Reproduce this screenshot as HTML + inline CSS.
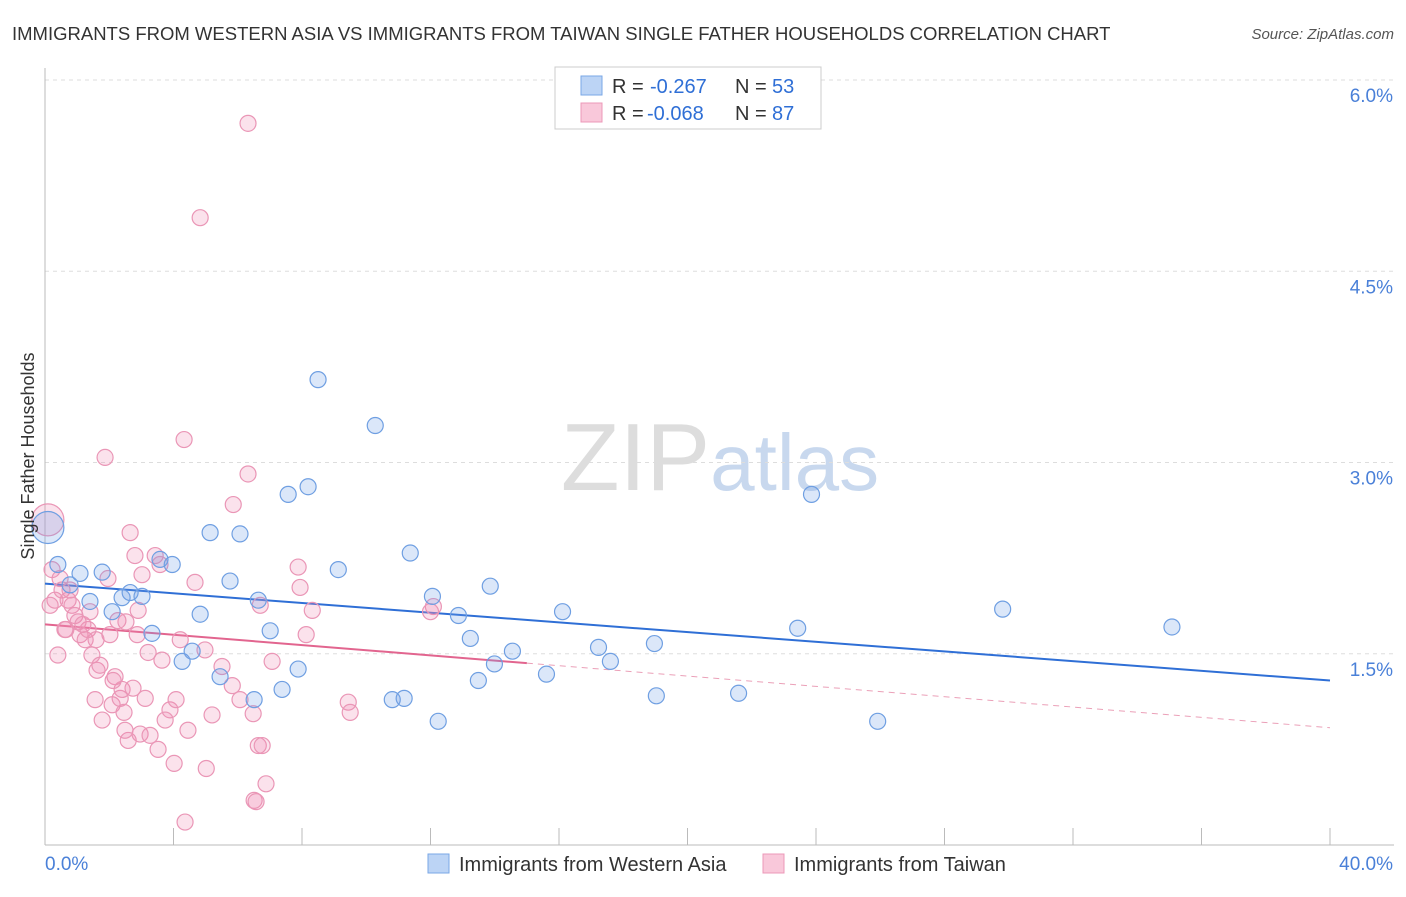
<!DOCTYPE html>
<html><head><meta charset="utf-8"><style>
body{margin:0;background:#fff;font-family:"Liberation Sans",sans-serif}
svg text{font-family:"Liberation Sans",sans-serif}
</style></head><body>
<svg id="chart" width="1406" height="892" viewBox="0 0 1406 892" xmlns="http://www.w3.org/2000/svg">
<text x="12" y="40" font-size="18.5" fill="#333">IMMIGRANTS FROM WESTERN ASIA VS IMMIGRANTS FROM TAIWAN SINGLE FATHER HOUSEHOLDS CORRELATION CHART</text>
<text x="1394" y="39" font-size="15" fill="#555" text-anchor="end" font-style="italic">Source: ZipAtlas.com</text>
<text x="720" y="490" font-size="96" fill="#ddd" text-anchor="middle" font-family="Liberation Serif"><tspan>ZIP</tspan><tspan fill="#c8d8ee" font-family="Liberation Sans" font-size="80">atlas</tspan></text>
<g id="grid"></g><g id="axes"></g><g id="lines"></g><g id="pts"></g>
<text transform="translate(34,456) rotate(-90)" font-size="18" fill="#333" text-anchor="middle">Single Father Households</text>
<g>
<rect x="555" y="67" width="266" height="62" fill="#fff" stroke="#ccc"/>
<rect x="581" y="76" width="21" height="19" fill="#bcd4f5" stroke="#7aa7e6"/>
<text x="612" y="93" font-size="20" fill="#333">R =</text>
<text x="650" y="93" font-size="20" fill="#2f6fd6">-0.267</text>
<text x="735" y="93" font-size="20" fill="#333">N =</text>
<text x="772" y="93" font-size="20" fill="#2f6fd6">53</text>
<rect x="581" y="103" width="21" height="19" fill="#f9c8da" stroke="#ec98b8"/>
<text x="612" y="120" font-size="20" fill="#333">R =</text>
<text x="647" y="120" font-size="20" fill="#2f6fd6">-0.068</text>
<text x="735" y="120" font-size="20" fill="#333">N =</text>
<text x="772" y="120" font-size="20" fill="#2f6fd6">87</text>
</g>
<g>
<rect x="428" y="854" width="21" height="19" fill="#bcd4f5" stroke="#7aa7e6"/>
<text x="459" y="871" font-size="20" fill="#333">Immigrants from Western Asia</text>
<rect x="763" y="854" width="21" height="19" fill="#f9c8da" stroke="#ec98b8"/>
<text x="794" y="871" font-size="20" fill="#333">Immigrants from Taiwan</text>
</g>
</svg>
<script>
const blueX=[0.09,0.40,0.78,1.09,1.78,1.40,2.09,2.40,2.65,3.02,3.33,3.58,3.96,4.27,4.58,4.83,5.14,5.45,5.76,6.07,6.51,6.64,7.01,7.38,7.57,7.88,8.19,8.50,9.13,10.28,10.81,11.18,11.37,12.06,12.24,12.87,13.24,13.49,13.86,13.99,14.55,15.61,16.11,17.23,17.60,18.97,19.03,21.59,23.43,23.86,25.92,29.81,35.08];
const blueY=[2.49,2.20,2.04,2.13,2.14,1.91,1.83,1.94,1.98,1.95,1.66,2.24,2.20,1.44,1.52,1.81,2.45,1.32,2.07,2.44,1.14,1.92,1.68,1.22,2.75,1.38,2.81,3.65,2.16,3.29,1.14,1.15,2.29,1.95,0.97,1.80,1.62,1.29,2.03,1.42,1.52,1.34,1.83,1.55,1.44,1.58,1.17,1.19,1.70,2.75,0.97,1.85,1.71];
const pinkX=[0.09,0.22,0.31,0.47,0.53,0.62,0.72,0.84,0.93,1.03,1.09,1.25,1.34,1.40,1.46,1.56,1.62,1.71,1.78,1.87,1.96,2.02,2.09,2.18,2.27,2.34,2.40,2.46,2.52,2.59,2.65,2.74,2.80,2.87,2.96,3.02,3.12,3.21,3.27,3.43,3.52,3.58,3.64,3.89,4.02,4.21,4.33,4.36,4.45,4.67,4.83,5.02,5.20,5.51,5.83,6.32,6.32,6.48,6.51,6.57,6.64,6.76,6.70,6.88,7.07,7.88,7.94,8.13,8.32,9.44,9.50,12.09,12.00,0.16,0.40,0.65,0.78,1.18,1.59,2.12,2.49,2.90,3.74,4.08,4.98,6.07,5.86];
const pinkY=[2.55,2.16,1.92,2.09,2.00,1.69,1.92,1.88,1.80,1.75,1.65,1.61,1.69,1.83,1.49,1.14,1.37,1.41,0.98,3.04,2.09,1.65,1.10,1.32,1.76,1.15,1.22,1.04,1.75,0.82,2.45,1.23,2.27,1.65,0.87,2.12,1.15,1.51,0.86,2.27,0.75,2.20,1.45,1.06,0.64,1.61,3.18,0.18,0.90,2.06,4.92,0.60,1.02,1.40,1.25,5.66,2.91,1.03,0.35,0.34,0.78,0.78,1.88,0.48,1.44,2.18,2.02,1.65,1.84,1.12,1.04,1.87,1.83,1.88,1.49,1.69,2.00,1.73,1.61,1.29,0.90,1.84,0.98,1.14,1.53,1.14,2.67];
const blueBig=[0];const pinkBig=[0];
const yTicks=[1.5,3.0,4.5,6.0];
const yTickLabels=["1.5%","3.0%","4.5%","6.0%"];
const xTicks=[0,4,8,12,16,20,24,28,32,36,40];
const blueTrend=[2.05,1.29];const pinkTrend=[1.73,0.92];const pinkSolidEnd=15.0;
const X=v=>45+v*32.125, Y=v=>845-v*127.5;
const NS="http://www.w3.org/2000/svg";
function mk(t,a,p){const e=document.createElementNS(NS,t);for(const k in a)e.setAttribute(k,a[k]);document.getElementById(p).appendChild(e);return e;}
yTicks.forEach((t,i)=>{
 const l=mk('line',{x1:45,x2:1394,y1:Y(t),y2:Y(t),stroke:'#ddd','stroke-dasharray':'4,4'},'grid');
 
 
 const tx=mk('text',{x:1393,y:Y(t)+22,'font-size':19,fill:'#4a80d8','text-anchor':'end'},'axes');tx.textContent=yTickLabels[i];
 
 
});
const ax=mk('line',{x1:45,x2:45,y1:68,y2:845,stroke:'#bbb'},'axes');


const bx=mk('line',{x1:45,x2:1394,y1:845,y2:845,stroke:'#bbb'},'axes');


xTicks.forEach(t=>{const l=mk('line',{x1:X(t),x2:X(t),y1:828,y2:845,stroke:'#bbb'},'axes');
 
 });
[["0.0%",45,'start'],["40.0%",1393,'end']].forEach(d=>{const t=mk('text',{x:d[1],y:870,'font-size':19,fill:'#4a80d8','text-anchor':d[2]},'axes');t.textContent=d[0];
 
 });
function dots(xs,ys,big,fill,stroke,name){xs.forEach((x,i)=>{const r=big.includes(i)?16:8;
 const c=mk('circle',{cx:X(x),cy:Y(ys[i]),r:r,fill:fill,stroke:stroke,'stroke-width':1.2},'pts');
 
 });}
dots(pinkX,pinkY,pinkBig,'rgba(240,140,180,0.25)','#ea96b6','taiwan-point');
dots(blueX,blueY,blueBig,'rgba(110,160,230,0.25)','#6f9fe2','western-asia-point');
const bl=mk('line',{x1:X(0),y1:Y(blueTrend[0]),x2:X(40),y2:Y(blueTrend[1]),stroke:'#2f6fd6','stroke-width':2},'lines');


const py=x=>pinkTrend[0]+(pinkTrend[1]-pinkTrend[0])*x/40;
const pl=mk('line',{x1:X(0),y1:Y(pinkTrend[0]),x2:X(pinkSolidEnd),y2:Y(py(pinkSolidEnd)),stroke:'#e2658f','stroke-width':2},'lines');


const pd=mk('line',{x1:X(pinkSolidEnd),y1:Y(py(pinkSolidEnd)),x2:X(40),y2:Y(pinkTrend[1]),stroke:'#eba0b8','stroke-width':1,'stroke-dasharray':'6,5'},'lines');


</script>
</body></html>
